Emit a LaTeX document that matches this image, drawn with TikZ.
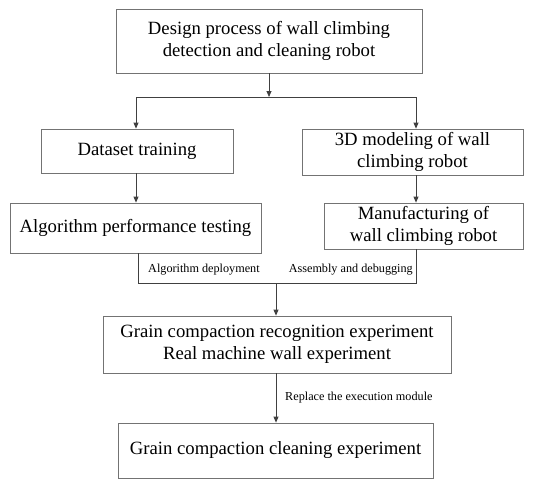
\documentclass[tikz,border=0pt]{standalone}
\usepackage{fontspec}
\setmainfont{Liberation Serif}
\usetikzlibrary{arrows.meta}
\tikzset{
  stepbox/.style={draw=black!55,line width=0.8pt,align=center,inner sep=0pt,
    font=\fontsize{18.7}{22.5}\selectfont},
  arr/.style={-{Triangle[length=6pt,width=5pt]},draw=black!75,line width=0.8pt},
  ln/.style={draw=black!75,line width=0.8pt},
  lbl/.style={font=\fontsize{12.2}{14}\selectfont,inner sep=1pt}
}
\begin{document}
\begin{tikzpicture}[x=1pt,y=-1pt]
\useasboundingbox (0,0) rectangle (559,480);
% boxes
\node[stepbox,minimum width=306,minimum height=64] (top) at (269,41)
  {Design process of wall climbing\\detection and cleaning robot};
\node[stepbox,minimum width=192,minimum height=44] (ds) at (137,151) {Dataset training};
\node[stepbox,minimum width=221,minimum height=46] (model) at (412.5,152)
  {3D modeling of wall\\climbing robot};
\node[stepbox,minimum width=251,minimum height=50] (alg) at (135.5,228)
  {Algorithm performance testing};
\node[stepbox,minimum width=199,minimum height=46] (manu) at (423.5,226)
  {Manufacturing of\\wall climbing robot};
\node[stepbox,minimum width=348,minimum height=57] (grain) at (277,344.5)
  {Grain compaction recognition experiment\\Real machine wall experiment};
\node[stepbox,minimum width=315,minimum height=55] (clean) at (275.5,450.5)
  {Grain compaction cleaning experiment};
% junctions
\coordinate (split) at (269,97);
\coordinate (splitL) at (136,97);
\coordinate (splitR) at (416,97);
\coordinate (joinL) at (138,283);
\coordinate (joinR) at (416,283);
\coordinate (join) at (276,283);
% connectors
\draw[arr] (top) -- (split);
\draw[ln] (splitL) -- (splitR);
\draw[arr] (splitL) -- (splitL |- ds.north);
\draw[arr] (splitR) -- (splitR |- model.north);
\draw[arr] (ds.south -| splitL) -- (alg.north -| splitL);
\draw[arr] (model.south -| splitR) -- (manu.north -| splitR);
\draw[ln] (alg.south -| joinL) -- (joinL) -- (joinR) -- (manu.south -| joinR);
\draw[arr] (join) -- (join |- grain.north);
\draw[arr] (grain.south -| join) -- (clean.north -| join);
% labels
\node[lbl,anchor=west] (l1) at (147,270) {Algorithm deployment};
\node[lbl,anchor=east] (l2) at (414,270) {Assembly and debugging};
\node[lbl,anchor=west] (l3) at (284,398) {Replace the execution module};
\end{tikzpicture}
\end{document}
